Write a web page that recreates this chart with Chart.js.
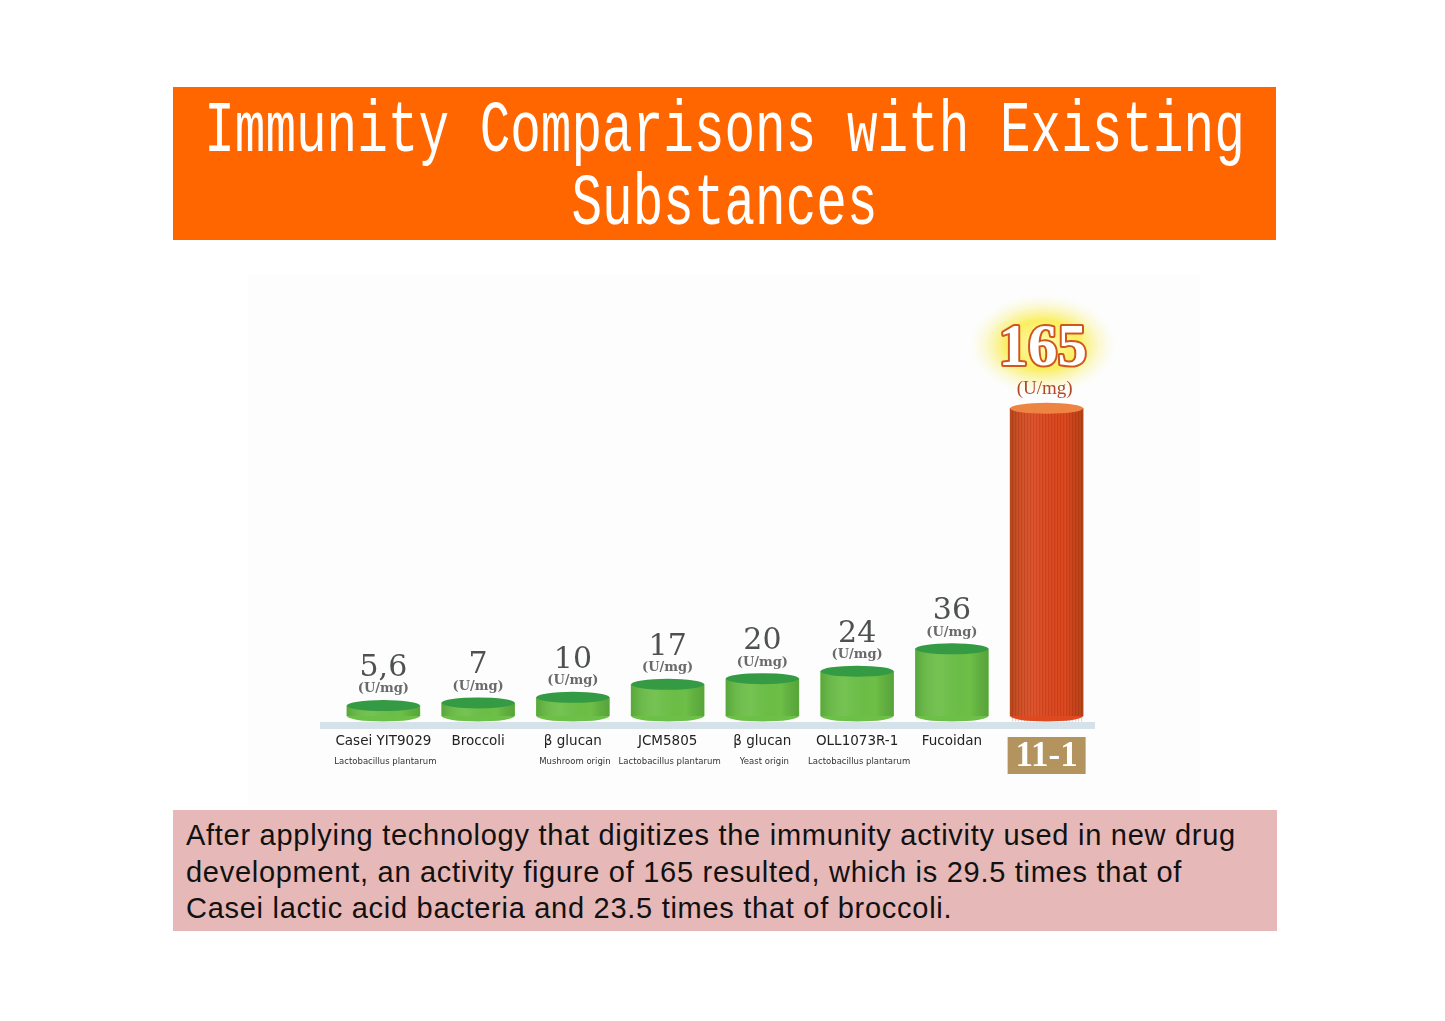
<!DOCTYPE html>
<html>
<head>
<meta charset="utf-8">
<script src="https://cdn.jsdelivr.net/npm/chart.js@4.4.0/dist/chart.umd.min.js"></script>
<style>
  html, body { margin: 0; padding: 0; background: #fff; }
  body { width: 1445px; height: 1021px; position: relative; overflow: hidden; }
  #title {
    position: absolute; left: 173px; top: 87px; width: 1103px; height: 153px;
    background: #ff6600; color: #fff; overflow: hidden;
  }
  #title div {
    position: absolute; left: 0; right: 0; top: 8px; height: 145px;
    text-align: center; font-family: "Liberation Mono", monospace; font-size: 51px;
    line-height: 51px; transform: scaleY(1.42); transform-origin: 50% 50%;
    padding-top: 22px; box-sizing: border-box;
  }
  #plot { position: absolute; left: 248px; top: 275px; width: 952px; height: 530px; background: #fdfdfd; }
  #note {
    position: absolute; left: 173px; top: 810px; width: 1104px; height: 121px;
    background: #e6b8b7; color: #111; font-family: "Liberation Sans", Arial, sans-serif;
    font-size: 29px; letter-spacing: 0.72px; line-height: 36.5px; padding: 7px 0 0 13px; box-sizing: border-box;
    white-space: nowrap;
  }
</style>
</head>
<body>
<div id="title"><div>Immunity Comparisons with Existing<br>Substances</div></div>
<div id="plot"><canvas id="immunityChart"></canvas></div>
<div id="note">After applying technology that digitizes the immunity activity used in new drug<br>development, an activity figure of 165 resulted, which is 29.5 times that of<br>Casei lactic acid bacteria and 23.5 times that of broccoli.</div>
<script>
const categories = ["Casei YIT9029", "Broccoli", "β glucan", "JCM5805", "β glucan", "OLL1073R-1", "Fucoidan", "11-1"];
const subtitles = ["Lactobacillus plantarum", "", "Mushroom origin", "Lactobacillus plantarum", "Yeast origin", "Lactobacillus plantarum", "", ""];
const activity = [5.6, 7, 10, 17, 20, 24, 36, 165];
const valueLabels = ["5,6", "7", "10", "17", "20", "24", "36", "165"];
const unitLabel = "(U/mg)";

const green_side = "#6cbf47";
const green_cap = "#349a44";
const red_side = "#dd4a20";
const red_cap = "#ee8444";
const HIGHLIGHT = 7;

const cylinderPlugin = {
    id: "cylinders",
    beforeDatasetsDraw(chart) {
        const ctx = chart.ctx;
        // pale axis strip under the bars
        ctx.save();
        ctx.fillStyle = "#d6e2ea";
        ctx.fillRect(72, 447, 775, 7);
        ctx.restore();
    },
    afterDatasetsDraw(chart) {
        const ctx = chart.ctx;
        const meta = chart.getDatasetMeta(0);
        ctx.save();
        meta.data.forEach((bar, i) => {
            const p = bar.getProps(["x", "y", "base", "width"], true);
            const rx = p.width / 2, ry = 5.5;
            const hot = i == HIGHLIGHT;

            // edge shading on the body
            const g = ctx.createLinearGradient(p.x - rx, 0, p.x + rx, 0);
            g.addColorStop(0, "rgba(0,60,0,0.18)");
            g.addColorStop(0.35, "rgba(255,255,255,0.06)");
            g.addColorStop(0.75, "rgba(0,0,0,0)");
            g.addColorStop(1, "rgba(0,60,0,0.2)");
            ctx.fillStyle = g;
            ctx.fillRect(p.x - rx, p.y, p.width, p.base - p.y);

            if (hot) {
                // fine vertical stripes on the red column
                ctx.strokeStyle = "rgba(140,20,0,0.22)";
                ctx.lineWidth = 1;
                for (let sx = p.x - rx + 2; sx < p.x + rx; sx += 3) {
                    ctx.beginPath();
                    ctx.moveTo(sx + 0.5, p.y);
                    ctx.lineTo(sx + 0.5, p.base + ry);
                    ctx.stroke();
                }
            }

            // rounded bottom
            ctx.fillStyle = hot ? red_side : green_side;
            ctx.beginPath();
            ctx.ellipse(p.x, p.base, rx, ry, 0, 0, Math.PI);
            ctx.fill();

            // top cap
            ctx.fillStyle = hot ? red_cap : green_cap;
            ctx.beginPath();
            ctx.ellipse(p.x, p.y, rx, ry, 0, 0, 2 * Math.PI);
            ctx.fill();

            const capTop = p.y - ry;
            ctx.textAlign = "center";
            if (!hot) {
                ctx.fillStyle = "#4e524e";
                ctx.font = "30px 'DejaVu Serif'";
                ctx.textBaseline = "alphabetic";
                ctx.fillText(valueLabels[i], p.x, capTop - 24);
                ctx.fillStyle = "#6a6a6a";
                ctx.font = "bold 13px 'DejaVu Serif'";
                ctx.textBaseline = "middle";
                ctx.fillText(unitLabel, p.x, capTop - 11);
            } else {
                // glow behind the big number
                const gx = p.x - 4, gy = capTop - 58;
                const glow = ctx.createRadialGradient(gx, gy, 5, gx, gy, 74);
                glow.addColorStop(0, "rgba(255,250,170,1)");
                glow.addColorStop(0.45, "rgba(250,236,80,0.9)");
                glow.addColorStop(0.7, "rgba(248,240,120,0.45)");
                glow.addColorStop(1, "rgba(250,250,210,0)");
                ctx.save();
                ctx.translate(gx, gy);
                ctx.scale(1, 0.68);
                ctx.translate(-gx, -gy);
                ctx.fillStyle = glow;
                ctx.beginPath();
                ctx.arc(gx, gy, 74, 0, 2 * Math.PI);
                ctx.fill();
                ctx.restore();

                ctx.font = "bold 59px 'Liberation Serif'";
                ctx.textBaseline = "alphabetic";
                ctx.lineJoin = "round";
                ctx.strokeStyle = "#d0561c";
                ctx.lineWidth = 4;
                ctx.strokeText(valueLabels[i], gx, capTop - 38);
                ctx.fillStyle = "#ffffff";
                ctx.fillText(valueLabels[i], gx, capTop - 38);

                ctx.fillStyle = "#b0482a";
                ctx.font = "19px 'Liberation Serif'";
                ctx.textBaseline = "middle";
                ctx.fillText(unitLabel, p.x - 2, capTop - 14);
            }
        });

        // category names under the axis
        const xs = chart.scales.x;
        categories.forEach((name, i) => {
            const x = xs.getPixelForValue(i);
            if (i == HIGHLIGHT) {
                ctx.fillStyle = "#b4945e";
                ctx.fillRect(x - 39, 462, 78, 37);
                ctx.fillStyle = "#ffffff";
                ctx.font = "bold 35px 'Liberation Serif'";
                ctx.textBaseline = "middle";
                ctx.fillText(name, x, 482);
                return;
            }
            ctx.fillStyle = "#222";
            ctx.font = "13.5px 'DejaVu Sans'";
            ctx.textBaseline = "middle";
            ctx.fillText(name, x, 466);
            if (subtitles[i]) {
                ctx.fillStyle = "#333";
                ctx.font = "8.5px 'DejaVu Sans'";
                ctx.fillText(subtitles[i], x + 2, 487);
            }
        });
        ctx.restore();
    }
};

const myChart = new Chart("immunityChart", {
    type: "bar",
    data: {
        labels: categories,
        datasets: [{
            data: activity,
            backgroundColor: activity.map((v, i) => i == HIGHLIGHT ? red_side : green_side),
            borderWidth: 0,
            barThickness: 73
        }]
    },
    options: {
        responsive: true,
        maintainAspectRatio: false,
        animation: false,
        layout: { padding: { left: 88, right: 106, top: 68, bottom: 89 } },
        plugins: { legend: { display: false }, tooltip: { enabled: false } },
        scales: {
            x: { display: false },
            y: { display: false, min: 0, max: 200 }
        }
    },
    plugins: [cylinderPlugin]
});
</script>
</body>
</html>
